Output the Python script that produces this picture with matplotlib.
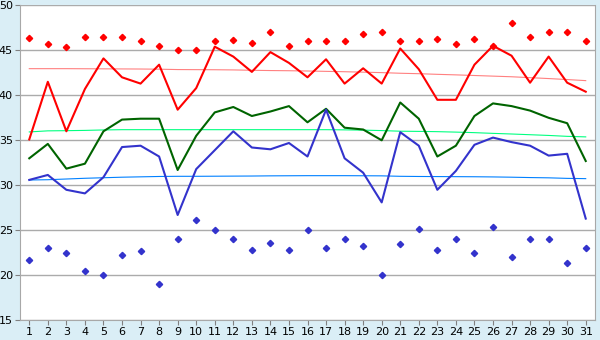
import numpy as np
import matplotlib
matplotlib.use("Agg")
import matplotlib.pyplot as plt

days = list(range(1, 32))
max_temp = [35.1, 41.5, 36.0, 40.7, 44.1, 42.0, 41.3, 43.4, 38.4, 40.8,
            45.4, 44.3, 42.6, 44.8, 43.6, 42.0, 44.0, 41.3, 43.0, 41.3,
            45.2, 42.9, 39.5, 39.5, 43.4, 45.5, 44.4, 41.4, 44.3, 41.4, 40.4]
avg_temp = [33.0, 34.6, 31.85, 32.4, 36.0, 37.3, 37.4, 37.4, 31.7, 35.5,
            38.1, 38.7, 37.7, 38.2, 38.8, 37.0, 38.5, 36.4, 36.2, 35.0,
            39.2, 37.4, 33.2, 34.4, 37.7, 39.1, 38.8, 38.3, 37.5, 36.9, 32.7]
min_temp = [30.6, 31.15, 29.5, 29.1, 30.9, 34.25, 34.4, 33.2, 26.7, 31.8,
            33.9, 36.0, 34.2, 34.0, 34.7, 33.2, 38.4, 33.0, 31.4, 28.1,
            35.9, 34.4, 29.5, 31.6, 34.5, 35.3, 34.8, 34.4, 33.3, 33.5, 26.3]
record_high = [46.4, 45.7, 45.4, 46.5, 46.5, 46.5, 46.0, 45.5, 45.0, 45.0,
               46.0, 46.1, 45.85, 47.0, 45.5, 46.0, 46.0, 46.0, 46.85, 47.0,
               46.0, 46.0, 46.3, 45.7, 46.2, 45.5, 48.0, 46.5, 47.0, 47.0, 46.0]
record_low = [21.7, 23.0, 22.5, 20.5, 20.0, 22.3, 22.75, 19.0, 24.0, 26.1,
              25.0, 24.0, 22.85, 23.6, 22.85, 25.0, 23.0, 24.0, 23.2, 20.0,
              23.5, 25.1, 22.85, 24.0, 22.5, 25.4, 22.0, 24.0, 24.0, 21.4, 23.0]
normal_max = [42.96, 42.96, 42.96, 42.95, 42.94, 42.93, 42.92, 42.90, 42.86, 42.85,
              42.84, 42.82, 42.78, 42.75, 42.73, 42.70, 42.66, 42.62, 42.57, 42.52,
              42.45, 42.40, 42.33, 42.27, 42.20, 42.13, 42.06, 41.96, 41.86, 41.75, 41.63]
normal_avg = [35.93, 36.05, 36.07, 36.10, 36.15, 36.18, 36.18, 36.18, 36.18, 36.18,
              36.18, 36.18, 36.18, 36.18, 36.18, 36.18, 36.18, 36.16, 36.13, 36.08,
              36.01, 35.99, 35.96, 35.91, 35.85, 35.77, 35.70, 35.62, 35.54, 35.44, 35.38]
normal_min = [30.59, 30.62, 30.70, 30.78, 30.84, 30.90, 30.94, 30.98, 31.00, 31.00,
              31.01, 31.02, 31.03, 31.05, 31.06, 31.07, 31.07, 31.07, 31.06, 31.05,
              31.00, 30.98, 30.97, 30.96, 30.95, 30.93, 30.90, 30.86, 30.83, 30.77, 30.74]
y_ticks = [15, 20, 25, 30, 35, 40, 45, 50]

fig = plt.figure(figsize=(6, 3.4), dpi=100)
fig.patch.set_facecolor("#DAEEF6")
ax = fig.add_axes([20/600, 19.7/340, 575/600, 315/340])
ax.set_facecolor("white")

ax.plot(days, normal_max, color="#FF8080", lw=0.8, zorder=2)
ax.plot(days, normal_avg, color="#00FF80", lw=0.8, zorder=2)
ax.plot(days, normal_min, color="#0080FF", lw=0.8, zorder=2)

ax.plot(days, max_temp, color="#FF0000", lw=1.5, zorder=3)
ax.plot(days, avg_temp, color="#006400", lw=1.5, zorder=3)
ax.plot(days, min_temp, color="#3333CC", lw=1.5, zorder=3)
ax.plot(days, record_high, ls="none", marker="D", ms=3.2, color="#FF0000", zorder=4)
ax.plot(days, record_low, ls="none", marker="D", ms=3.2, color="#3333CC", zorder=4)

ax.set_xlim(0.5, 31.5)
ax.set_ylim(15, 50)
ax.set_xticks(days)
ax.set_yticks(y_ticks)
ax.yaxis.grid(True, color="#ABABAB", lw=1)
ax.set_axisbelow(True)
ax.tick_params(axis="both", labelsize=8, color="#808080", length=3.5, pad=1.5)
for s in ax.spines.values():
    s.set_color("#A8A8A8")
ax.spines["top"].set_visible(False)

fig.savefig("out.png", dpi=100, facecolor=fig.get_facecolor())
